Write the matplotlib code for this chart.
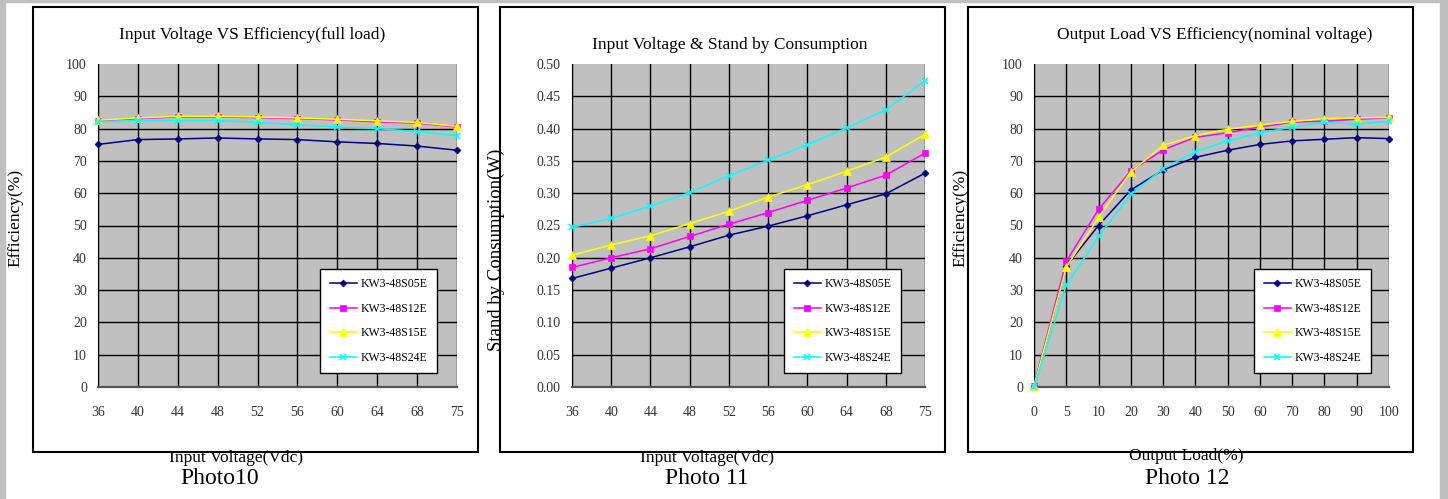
import numpy as np
import matplotlib
matplotlib.use("Agg")
import matplotlib.pyplot as plt
from matplotlib.patches import Rectangle

plt.rcParams['font.family'] = ['Liberation Serif', 'DejaVu Serif']

series_names = ["KW3-48S05E", "KW3-48S12E", "KW3-48S15E", "KW3-48S24E"]
colors = ["#000080", "#ff00ff", "#ffff00", "#00ffff"]
markers = ["D", "s", "^", "x"]
msizes = [3.5, 4.5, 5.5, 4]

vin_labels = ["36", "40", "44", "48", "52", "56", "60", "64", "68", "75"]
load_labels = ["0", "5", "10", "20", "30", "40", "50", "60", "70", "80", "90", "100"]

# Photo10: efficiency vs input voltage (full load)
eff_s05 = [75.1, 76.6, 76.8, 77.1, 76.8, 76.6, 75.9, 75.4, 74.6, 73.3]
eff_s12 = [82.4, 83.1, 83.6, 83.6, 83.4, 83.1, 82.7, 82.1, 81.7, 80.5]
eff_s15 = [82.6, 83.3, 83.8, 83.8, 83.6, 83.3, 82.9, 82.4, 81.9, 80.7]
eff_s24 = [82.1, 82.5, 82.5, 82.5, 81.9, 81.2, 80.5, 80.0, 79.1, 77.8]

# Photo11: stand by consumption (W)
sb_s05 = [0.168, 0.184, 0.200, 0.217, 0.235, 0.249, 0.265, 0.282, 0.299, 0.331]
sb_s12 = [0.185, 0.200, 0.214, 0.233, 0.252, 0.270, 0.289, 0.308, 0.328, 0.362]
sb_s15 = [0.204, 0.220, 0.234, 0.253, 0.272, 0.294, 0.313, 0.334, 0.356, 0.391]
sb_s24 = [0.247, 0.261, 0.280, 0.301, 0.327, 0.351, 0.375, 0.401, 0.429, 0.474]

# Photo12: efficiency vs output load (nominal voltage)
ld_s05 = [0.2, 37.5, 50.0, 61.0, 67.2, 71.1, 73.3, 75.1, 76.2, 76.7, 77.2, 76.9]
ld_s12 = [0.4, 38.9, 55.0, 66.9, 73.4, 77.3, 78.7, 80.5, 82.0, 82.3, 82.9, 83.4]
ld_s15 = [0.2, 37.1, 52.5, 66.6, 74.8, 77.8, 79.8, 81.1, 82.2, 83.1, 83.3, 83.5]
ld_s24 = [0.0, 31.5, 46.6, 59.6, 67.6, 72.8, 76.2, 78.6, 80.5, 81.9, 81.4, 82.3]

W, H = 1448, 499
fig = plt.figure(figsize=(W / 100, H / 100), dpi=100)


def px_rect(x0, y0, x1, y1):
    return [x0 / W, 1 - y1 / H, (x1 - x0) / W, (y1 - y0) / H]


# outer gray frame and panel boxes
fig.patches.append(Rectangle((0, 0), 5 / W, 1, transform=fig.transFigure, color="#c0c0c0"))
fig.patches.append(Rectangle((1440 / W, 0), 8 / W, 1, transform=fig.transFigure, color="#c0c0c0"))
fig.patches.append(Rectangle((0, 1 - 2 / H), 1, 2 / H, transform=fig.transFigure, color="#c0c0c0"))
for x0, x1 in [(33, 478), (500, 945), (968, 1413)]:
    fig.patches.append(Rectangle((x0 / W, 1 - 452 / H), (x1 - x0) / W, 445 / H,
                                 transform=fig.transFigure, fill=False,
                                 edgecolor="black", lw=1.5))


def panel(rect, xlabels, data, ylim, yticks, yfmt, leg_right):
    ax = fig.add_axes(px_rect(*rect))
    ax.set_facecolor("#c0c0c0")
    x = np.arange(len(xlabels))
    for ys, c, m, ms, name in zip(data, colors, markers, msizes, series_names):
        ax.plot(x, ys, color=c, marker=m, ms=ms, lw=1.1, label=name, clip_on=False,
                markeredgewidth=1.2 if m == "x" else 0.5, zorder=3)
    ax.set_xlim(0, len(xlabels) - 1)
    ax.set_ylim(*ylim)
    ax.set_xticks(x)
    ax.set_xticklabels(xlabels)
    ax.set_yticks(yticks)
    ax.set_yticklabels([yfmt.format(v) for v in yticks])
    ax.grid(True, color="black", lw=1)
    ax.get_ygridlines()[-1].set_visible(False)
    ax.set_axisbelow(True)
    ax.tick_params(length=0, labelsize=10, colors="#333333", pad=8)
    ax.tick_params(axis="x", pad=14)
    for s in ["top", "right"]:
        ax.spines[s].set_visible(False)
    ax.spines["left"].set_color("black")
    ax.spines["bottom"].set_color("#555555")
    ax.spines["bottom"].set_linewidth(1.6)
    leg = ax.legend(loc="lower right", bbox_to_anchor=(leg_right, 0.043),
                    borderaxespad=0, fancybox=False, edgecolor="black",
                    framealpha=1, fontsize=8.5, labelspacing=1.05,
                    handlelength=2.3, handletextpad=0.3, borderpad=0.8)
    leg.get_frame().set_linewidth(1.0)
    leg.set_zorder(5)
    return ax


panel((98, 64, 457, 387), vin_labels, [eff_s05, eff_s12, eff_s15, eff_s24],
      (0, 100), np.arange(0, 101, 10), "{:.0f}", 0.944)
panel((572, 64, 925, 387), vin_labels, [sb_s05, sb_s12, sb_s15, sb_s24],
      (0, 0.5), np.round(np.arange(0, 0.51, 0.05), 2), "{:.2f}", 0.932)
panel((1034, 64, 1389, 387), load_labels, [ld_s05, ld_s12, ld_s15, ld_s24],
      (0, 100), np.arange(0, 101, 10), "{:.0f}", 0.949)


def ftext(x, y, s, **kw):
    fig.text(x / W, 1 - y / H, s, ha="center", va="center", **kw)


ftext(252, 35, "Input Voltage VS Efficiency(full load)", fontsize=12.5)
ftext(730, 45, "Input Voltage & Stand by Consumption", fontsize=12.5)
ftext(1215, 35, "Output Load VS Efficiency(nominal voltage)", fontsize=12.5)

ftext(15, 218, "Efficiency(%)", fontsize=12.5, rotation=90)
ftext(496, 250, "Stand by Consumption(W)", fontsize=13.5, rotation=90)
ftext(960, 218, "Efficiency(%)", fontsize=12.5, rotation=90)

ftext(236, 458, "Input Voltage(Vdc)", fontsize=12.5)
ftext(707, 458, "Input Voltage(Vdc)", fontsize=12.5)
ftext(1186, 456, "Output Load(%)", fontsize=12.5)

ftext(220, 479, "Photo10", fontsize=17)
ftext(707, 479, "Photo 11", fontsize=17)
ftext(1187, 479, "Photo 12", fontsize=17)

fig.savefig("out.png", dpi=100)
